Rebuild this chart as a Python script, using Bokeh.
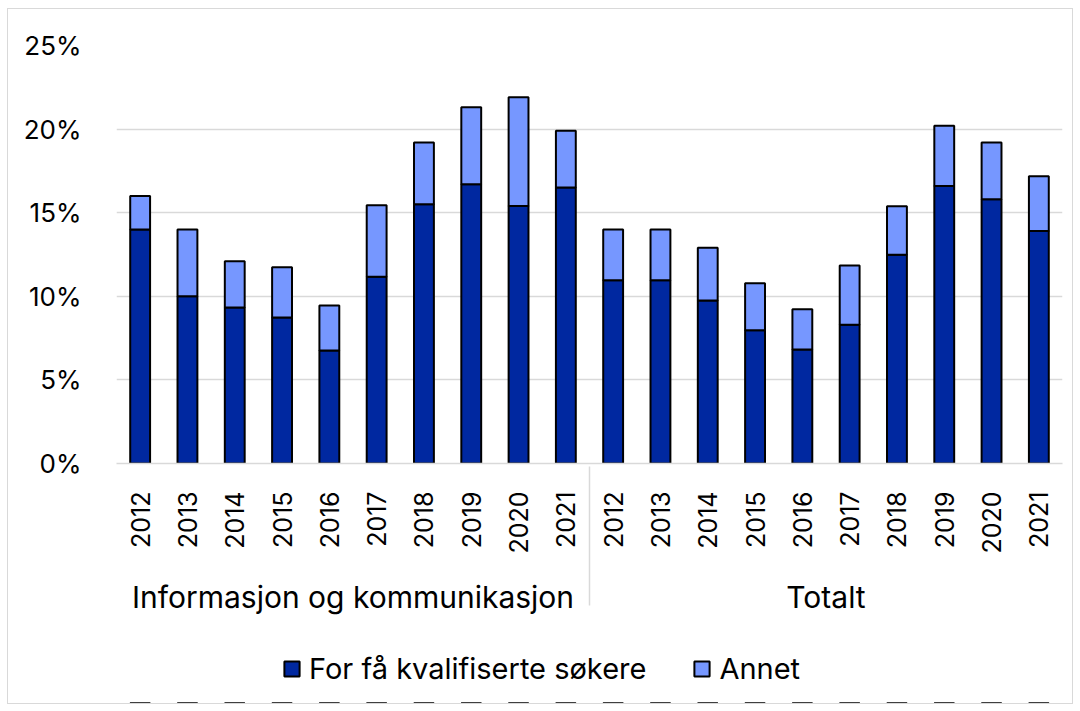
from bokeh.plotting import figure
from bokeh.layouts import column
from bokeh.models import FactorRange, ColumnDataSource, Legend, LegendItem, NumeralTickFormatter, FixedTicker
from bokeh.embed import file_html
from bokeh.resources import INLINE

groups = ["Informasjon og kommunikasjon", "Totalt"]
years = ["2012", "2013", "2014", "2015", "2016", "2017", "2018", "2019", "2020", "2021"]

# percent values
ikt_few = [14.0, 10.0, 9.33, 8.73, 6.76, 11.17, 15.5, 16.7, 15.4, 16.5]
ikt_total = [16.0, 14.0, 12.1, 11.74, 9.45, 15.45, 19.2, 21.3, 21.9, 19.9]
tot_few = [10.96, 10.96, 9.75, 7.97, 6.82, 8.3, 12.48, 16.6, 15.8, 13.9]
tot_total = [14.0, 14.0, 12.9, 10.78, 9.23, 11.84, 15.39, 20.2, 19.2, 17.18]

series = ["For få kvalifiserte søkere", "Annet"]
colors = ["#0028A0", "#7697FF"]

FONT = "Inter"

factors = [(g, y) for g in groups for y in years]
few = [v / 100 for v in ikt_few + tot_few]
other = [(t - f) / 100 for t, f in zip(ikt_total + tot_total, ikt_few + tot_few)]

src = ColumnDataSource(dict(x=factors, few=few, other=other))

xr = FactorRange(*factors, factor_padding=0, group_padding=0, range_padding=0)

p = figure(
    x_range=xr,
    y_range=(0, 0.25),
    frame_width=946, frame_height=418,
    output_backend="svg", toolbar_location=None,
    min_border_left=108, min_border_right=10, min_border_top=36, min_border_bottom=170,
)

r = p.vbar_stack(["few", "other"], x="x", width=0.42, source=src,
                 fill_color=colors, line_color="black", line_width=2)

p.outline_line_color = None
p.background_fill_color = "white"
p.border_fill_color = "white"

p.yaxis.ticker = FixedTicker(ticks=[0, 0.05, 0.10, 0.15, 0.20, 0.25])
p.yaxis.formatter = NumeralTickFormatter(format="0%")
p.yaxis.axis_line_color = None
p.yaxis.major_tick_line_color = None
p.yaxis.minor_tick_line_color = None
p.yaxis.major_label_text_font = FONT
p.yaxis.major_label_text_font_size = "26px"
p.yaxis.major_label_text_color = "black"
p.yaxis.major_label_standoff = 29

p.ygrid.grid_line_color = "#d9d9d9"
p.ygrid.grid_line_width = 1.5
p.xgrid.grid_line_color = None

ax = p.xaxis[0]
ax.axis_line_color = "#d9d9d9"
ax.axis_line_width = 1.5
ax.major_tick_line_color = None
ax.minor_tick_line_color = None
ax.major_label_orientation = 1.5708
ax.major_label_text_font = FONT
ax.major_label_text_font_size = "25px"
ax.major_label_text_color = "black"
ax.major_label_standoff = 22
ax.group_text_font = FONT
ax.group_text_font_size = "30px"
ax.group_text_color = "black"
ax.group_text_font_style = "normal"
ax.separator_line_color = "#d9d9d9"
ax.separator_line_width = 1.5

# legend strip below the chart: same stacked series, viewed out of frame,
# so only the legend glyphs show
pl = figure(
    x_range=xr, y_range=(1, 2), width=1064, height=70,
    x_axis_type=None, y_axis_type=None,
    output_backend="svg", toolbar_location=None,
    min_border_left=0, min_border_right=0, min_border_top=0, min_border_bottom=0,
)
pl.outline_line_color = None
pl.grid.visible = False
proxies = pl.vbar_stack(["few", "other"], x="x", width=0.42, source=src,
                        fill_color=colors, line_color="black", line_width=2)

legend = Legend(
    items=[LegendItem(label=s, renderers=[rr]) for s, rr in zip(series, proxies)],
    orientation="horizontal", location=(166, 17),
    label_text_font=FONT, label_text_font_size="29px", label_text_color="black",
    glyph_width=19, glyph_height=19, spacing=46, label_standoff=8,
    border_line_color=None, background_fill_alpha=0, margin=0, padding=4,
)
pl.add_layout(legend, "center")

layout = column(p, pl, spacing=0)
layout.styles = {"margin": "9px 0px 0px 8px", "outline": "1.5px solid #d9d9d9"}

open("out.html", "w").write(file_html(layout, INLINE))
